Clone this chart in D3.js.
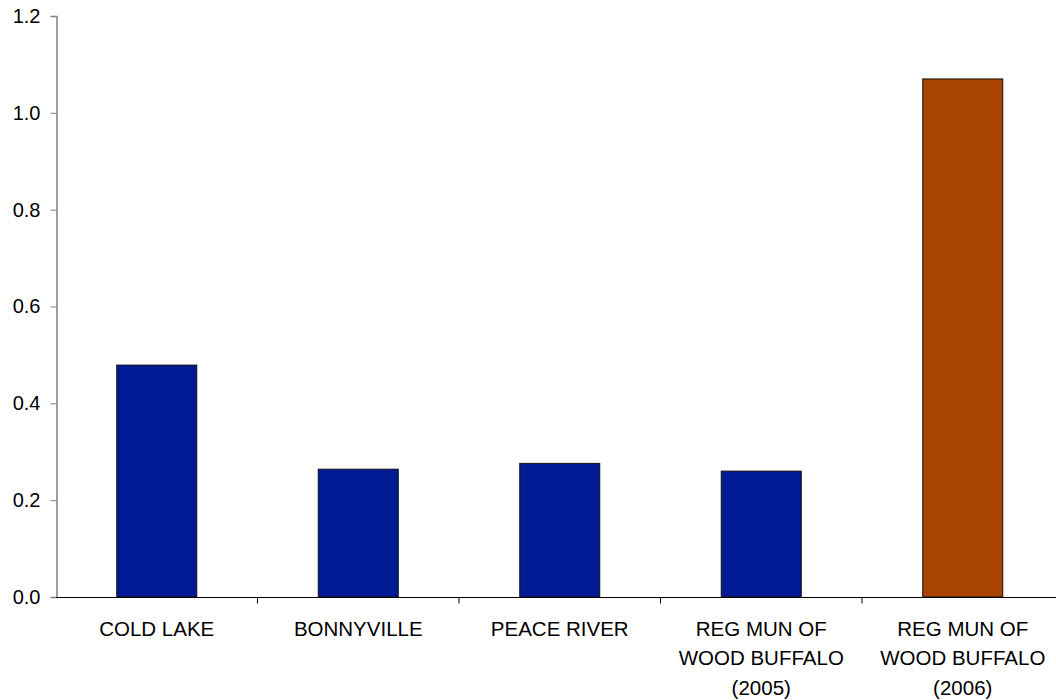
<!DOCTYPE html>
<html><head><meta charset="utf-8">
<script src="https://cdn.jsdelivr.net/npm/d3@7"></script>
<style>body{margin:0;background:#fff;} svg{display:block;}</style>
</head><body>
<svg id="c" width="1056" height="700"></svg>
<script>
const categories = ["COLD LAKE", "BONNYVILLE", "PEACE RIVER", "REG MUN OF\nWOOD BUFFALO\n(2005)", "REG MUN OF\nWOOD BUFFALO\n(2006)"];
const values = [0.479, 0.264, 0.276, 0.260, 1.070];
const barColors = ["#001a94", "#001a94", "#001a94", "#001a94", "#a84400"];
const yTicks = [0, 0.2, 0.4, 0.6, 0.8, 1.0, 1.2];

const svg = d3.select("#c");
const xb = d3.scaleBand().domain(categories).range([56, 1063.5]);
const y = d3.scaleLinear().domain([0, 1.2]).range([597, 16]);
const font = "'Liberation Sans', Arial, sans-serif";

// bars
svg.selectAll("rect.bar").data(values).join("rect")
  .attr("class","bar")
  .attr("x", (d,i)=> xb(categories[i]) + xb.bandwidth()/2 - 40)
  .attr("width", 80)
  .attr("y", d=>y(d))
  .attr("height", d=>y(0)-y(d))
  .attr("fill", (d,i)=>barColors[i])
  .attr("stroke", "#111")
  .attr("stroke-width", 1);

// y axis
const ya = svg.append("g").attr("transform","translate(56.5,0)")
  .call(d3.axisLeft(y).tickValues(yTicks).tickFormat(d3.format(".1f")).tickSizeOuter(0).tickSize(6).tickPadding(10));
ya.select(".domain").attr("stroke","#808080").attr("stroke-width",1.5);
ya.selectAll(".tick line").attr("stroke","#808080");
ya.selectAll("text").attr("font-family",font).attr("font-size",20).attr("fill","#000");

// x axis
const xa = svg.append("g").attr("transform","translate(0,597.5)");
xa.append("line").attr("x1",56).attr("x2",1063.5).attr("stroke","#000").attr("stroke-width",1.2);
xa.selectAll("line.t").data(categories).join("line").attr("class","t")
  .attr("x1",(d,i)=> xb(d) + xb.bandwidth()).attr("x2",(d,i)=> xb(d) + xb.bandwidth())
  .attr("y1",0).attr("y2",6).attr("stroke","#000");
const labs = xa.selectAll("text").data(categories).join("text")
  .attr("font-family",font).attr("font-size",20.5).attr("text-anchor","middle").attr("fill","#000")
  .attr("x", d=> xb(d)+xb.bandwidth()/2);
labs.each(function(d){
  const t = d3.select(this);
  d.split("\n").forEach((ln,k)=>{
    t.append("tspan").attr("x", xb(d)+xb.bandwidth()/2).attr("y", 38 + k*29.5).text(ln);
  });
});
</script>
</body></html>
